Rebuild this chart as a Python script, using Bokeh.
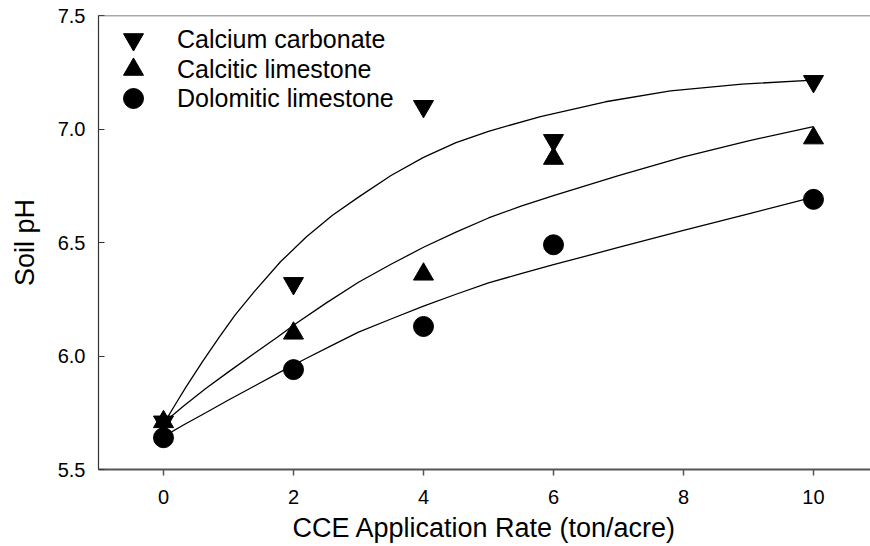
from bokeh.plotting import figure
from bokeh.models import FixedTicker, NumeralTickFormatter, Legend, LegendItem, Span
from bokeh.embed import file_html
from bokeh.resources import INLINE

# ---- data ----
rate = [0, 2, 4, 6, 10]
calcium_carbonate = [5.71, 6.32, 7.10, 6.95, 7.21]
calcitic_limestone = [5.71, 6.10, 6.36, 6.87, 6.96]
dolomitic_limestone = [5.64, 5.94, 6.13, 6.49, 6.69]

# fitted curves
cc_fit_x = [0, 0.2, 0.35, 0.6, 0.85, 1.1, 1.4, 1.8, 2.2, 2.6, 3, 3.5, 4, 4.5, 5, 5.8, 6.8, 7.8, 8.9, 10]
cc_fit_y = [5.70, 5.795, 5.865, 5.975, 6.08, 6.18, 6.285, 6.415, 6.525, 6.62, 6.70, 6.795, 6.875,
            6.94, 6.99, 7.055, 7.12, 7.168, 7.198, 7.215]
cl_fit_x = [0, 0.3, 0.65, 1, 1.4, 1.75, 2.05, 2.5, 3, 3.5, 4, 4.5, 5, 5.5, 6, 7, 8, 9, 10]
cl_fit_y = [5.705, 5.778, 5.857, 5.93, 6.012, 6.083, 6.145, 6.233, 6.325, 6.404, 6.479, 6.546,
            6.608, 6.66, 6.706, 6.795, 6.877, 6.948, 7.01]
dl_fit_x = [0, 0.3, 0.65, 1, 1.4, 1.8, 2.2, 2.6, 3, 3.5, 4, 4.5, 5, 5.5, 6, 7, 8, 9, 10]
dl_fit_y = [5.645, 5.695, 5.75, 5.806, 5.868, 5.93, 5.99, 6.048, 6.105, 6.163, 6.22, 6.272,
            6.322, 6.363, 6.402, 6.478, 6.553, 6.626, 6.70]

x_ticks = [0, 2, 4, 6, 8, 10]
y_ticks = [5.5, 6.0, 6.5, 7.0, 7.5]

labels = ["Calcium carbonate", "Calcitic limestone", "Dolomitic limestone"]

FONT = "Liberation Sans"
AXIS_COLOR = "#555555"

p = figure(width=870, height=546, x_range=(-1, 10.877), y_range=(5.5, 7.5),
           output_backend="svg", toolbar_location=None,
           min_border_left=98, min_border_right=0, min_border_top=15, min_border_bottom=77)
p.outline_line_color = None
p.grid.visible = False
p.background_fill_color = "white"

# curves
for fx, fy in [(cc_fit_x, cc_fit_y), (cl_fit_x, cl_fit_y), (dl_fit_x, dl_fit_y)]:
    p.line(fx, fy, line_color="black", line_width=1.3)

# points
r_cc = p.scatter(rate, calcium_carbonate, marker="inverted_triangle", size=20,
                 fill_color="black", line_color="black")
r_cl = p.scatter(rate, calcitic_limestone, marker="triangle", size=20,
                 fill_color="black", line_color="black")
r_dl = p.scatter(rate, dolomitic_limestone, marker="circle", size=20,
                 fill_color="black", line_color="black")

# top frame line
p.add_layout(Span(location=7.5, dimension="width", line_color=AXIS_COLOR, line_width=1.5))

# axes
xa = p.xaxis[0]
xa.ticker = FixedTicker(ticks=x_ticks)
xa.axis_label = "CCE Application Rate (ton/acre)"
xa.axis_line_color = AXIS_COLOR
xa.axis_line_width = 2
xa.major_tick_line_color = AXIS_COLOR
xa.major_tick_line_width = 1.5
xa.major_tick_out = 6
xa.major_tick_in = 0
xa.minor_tick_line_color = None
xa.major_label_standoff = 14
xa.axis_label_standoff = 6

ya = p.yaxis[0]
ya.ticker = FixedTicker(ticks=y_ticks)
ya.formatter = NumeralTickFormatter(format="0.0")
ya.axis_label = "Soil pH"
ya.axis_line_color = "#333333"
ya.axis_line_width = 1.2
ya.major_tick_line_color = "#333333"
ya.major_tick_out = 0
ya.major_tick_in = 6
ya.minor_tick_line_color = None
ya.major_label_standoff = 13
ya.axis_label_standoff = 15

for ax in (xa, ya):
    ax.major_label_text_font = FONT
    ax.major_label_text_font_size = "20px"
    ax.major_label_text_color = "black"
    ax.axis_label_text_font = FONT
    ax.axis_label_text_font_size = "27px"
    ax.axis_label_text_font_style = "normal"
    ax.axis_label_text_color = "black"

# one legend per entry so that 20px markers sit on a 30px row pitch
legend_rows = [(labels[0], r_cc, 405), (labels[1], r_cl, 375), (labels[2], r_dl, 346)]
for lab, rend, vy in legend_rows:
    lg = Legend(items=[LegendItem(label=lab, renderers=[rend])],
                location=(10, vy), glyph_width=50, glyph_height=50,
                padding=0, margin=0, label_standoff=19,
                border_line_color=None, background_fill_alpha=0,
                label_text_font=FONT, label_text_font_size="25px", label_text_color="black")
    p.add_layout(lg)

open("out.html", "w").write(file_html(p, INLINE))
